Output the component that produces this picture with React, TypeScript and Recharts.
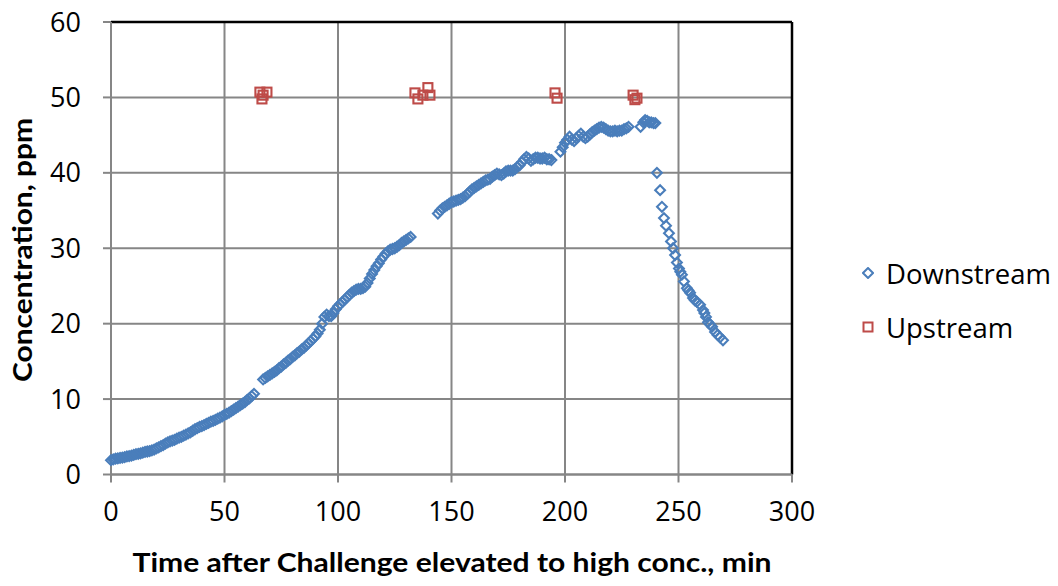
import { CartesianGrid, Label, ReferenceLine, Scatter, ScatterChart, XAxis, YAxis } from "recharts";

// [minutes, ppm] pairs, one array per run of readings
const downstreamRun1: [number, number][] = [
    [0, 1.9], [1, 2.0], [2, 2.1], [3, 2.15], [4, 2.2], [5, 2.25], [6, 2.3], [7, 2.4], [8, 2.45], [9, 2.5],
    [10, 2.6], [11, 2.7], [12, 2.75], [13, 2.8], [14, 2.9], [15, 3.0], [16, 3.05], [17, 3.1], [18, 3.2], [19, 3.3],
    [20, 3.45], [21, 3.6], [22, 3.75], [23, 3.9], [24, 4.1], [25, 4.25], [26, 4.4], [27, 4.5], [28, 4.6], [29, 4.75],
    [30, 4.9], [31, 5.0], [32, 5.15], [33, 5.3], [34, 5.45], [35, 5.6], [36, 5.8], [37, 6.0], [38, 6.15], [39, 6.3],
    [40, 6.4], [41, 6.55], [42, 6.7], [43, 6.85], [44, 7.0], [45, 7.1], [46, 7.25], [47, 7.4], [48, 7.55], [49, 7.7],
    [50, 7.9], [51, 8.05], [52, 8.2], [53, 8.4], [54, 8.6], [55, 8.8], [56, 9.0], [57, 9.2], [58, 9.4], [59, 9.6],
    [60, 9.9], [61, 10.1], [62, 10.4], [63, 10.7],
];

const downstreamRun2: [number, number][] = [
    [67, 12.6], [68, 12.8], [69, 13.0], [70, 13.2], [71, 13.4], [72, 13.6], [73, 13.8], [74, 14.1], [75, 14.3],
    [76, 14.6], [77, 14.8], [78, 15.1], [79, 15.3], [80, 15.6], [81, 15.8], [82, 16.1], [83, 16.3], [84, 16.6],
    [85, 16.8], [86, 17.1], [87, 17.4], [88, 17.7], [89, 18.0], [90, 18.3], [91, 18.7], [92, 19.2], [93, 20.0],
    [94, 20.9], [95, 21.2], [96, 21.0], [97, 21.0], [98, 21.4], [99, 21.9], [100, 22.3], [101, 22.6], [102, 22.9],
    [103, 23.2], [104, 23.5], [105, 23.8], [106, 24.1], [107, 24.3], [108, 24.5], [109, 24.6], [110, 24.6],
    [111, 24.7], [112, 24.9], [113, 25.4], [114, 26.0], [115, 26.6], [116, 27.1], [117, 27.6], [118, 28.0],
    [119, 28.5], [120, 28.9], [121, 29.3], [122, 29.6], [123, 29.8], [124, 29.9], [125, 30.0], [126, 30.2],
    [127, 30.4], [128, 30.7], [129, 30.9], [130, 31.1], [131, 31.3], [132, 31.5],
];

const downstreamRun3: [number, number][] = [
    [144, 34.6], [145, 35.0], [146, 35.3], [147, 35.5], [148, 35.7], [149, 35.9], [150, 36.1], [151, 36.2],
    [152, 36.3], [153, 36.4], [154, 36.5], [155, 36.7], [156, 36.9], [157, 37.2], [158, 37.5], [159, 37.8],
    [160, 38.0], [161, 38.2], [162, 38.4], [163, 38.6], [164, 38.8], [165, 39.0], [166, 39.1], [167, 39.2],
    [168, 39.5], [169, 39.7], [170, 39.9], [171, 39.8], [172, 39.7], [173, 39.9], [174, 40.2], [175, 40.3],
    [176, 40.3], [177, 40.3], [178, 40.5], [179, 40.8], [180, 41.0], [181, 41.4], [182, 41.8], [183, 42.1],
    [184, 41.9], [185, 41.6], [186, 41.8], [187, 42.0], [188, 42.0], [189, 41.9], [190, 41.9], [191, 42.0],
    [192, 41.8], [193, 41.8], [194, 41.7],
];

const downstreamRun4: [number, number][] = [
    [198, 42.8], [199, 43.4], [200, 44.0], [201, 44.4], [202, 44.8], [203, 44.4], [204, 44.2], [205, 44.6],
    [206, 44.9], [207, 45.2], [208, 44.8], [209, 44.6], [210, 44.8], [211, 45.1], [212, 45.4], [213, 45.6],
    [214, 45.8], [215, 46.0], [216, 46.1], [217, 46.0], [218, 45.8], [219, 45.6], [220, 45.5], [221, 45.5],
    [222, 45.6], [223, 45.5], [224, 45.6], [225, 45.6], [226, 45.8], [227, 45.9], [228, 46.1],
];

const downstreamRun5: [number, number][] = [
    [233.3, 46.1], [234.5, 46.7], [235.3, 47.0], [236.2, 46.9], [237.1, 46.7], [238.0, 46.7], [239.0, 46.6],
    [239.8, 46.6],
];

// purge: concentration drops once the challenge stops
const downstreamDecay: [number, number][] = [
    [240.5, 40.0], [241.9, 37.7], [242.7, 35.5], [243.6, 34.0], [244.5, 33.0], [245.8, 32.0], [246.7, 30.9],
    [247.6, 30.0], [248.5, 29.1], [249.3, 28.1], [250.2, 27.3], [250.8, 26.9], [251.5, 26.5], [252.4, 25.6],
    [253.7, 24.7], [254.4, 24.4], [255.1, 24.1], [256.4, 23.4], [257.2, 23.1], [258.1, 22.9], [259.5, 22.5],
    [260.8, 21.8], [261.4, 21.4], [262.1, 20.9], [263.0, 20.2], [263.9, 19.9], [264.8, 19.6], [266.1, 18.9],
    [267.2, 18.5], [268.3, 18.2], [269.6, 17.8],
];

const upstreamReadings: [number, number][] = [
    [65.6, 50.7], [66.5, 49.8], [67.0, 50.3], [68.7, 50.7],
    [133.9, 50.6], [135.2, 49.8], [137.4, 50.3], [139.6, 51.3], [140.5, 50.3],
    [195.6, 50.6], [196.5, 49.9],
    [230.0, 50.3], [230.8, 49.7], [231.7, 49.9],
];

const xTicks = [0, 50, 100, 150, 200, 250, 300];
const yTicks = [0, 10, 20, 30, 40, 50, 60];

const BLUE = "#4A7EBB";
const RED = "#BE4B48";
const GRID = "#868686";
const TICK_FONT = "'Open Sans', sans-serif";
const TITLE_FONT = "Lato, 'Open Sans', sans-serif";

const toPoints = (rows: [number, number][]) => rows.map(([t, c]) => ({ t, c }));

const downstream = toPoints([
    ...downstreamRun1,
    ...downstreamRun2,
    ...downstreamRun3,
    ...downstreamRun4,
    ...downstreamRun5,
    ...downstreamDecay,
]);
const upstream = toPoints(upstreamReadings);

function Diamond({ cx, cy }: { cx?: number; cy?: number }) {
    if (cx == null || cy == null) return null;
    const r = 4.9;
    return (
        <polygon
            points={`${cx},${cy - r} ${cx + r},${cy} ${cx},${cy + r} ${cx - r},${cy}`}
            fill="none"
            stroke={BLUE}
            strokeWidth={2.1}
        />
    );
}

function Square({ cx, cy }: { cx?: number; cy?: number }) {
    if (cx == null || cy == null) return null;
    const h = 4.5;
    return (
        <rect x={cx - h} y={cy - h} width={h * 2} height={h * 2} fill="none" stroke={RED} strokeWidth={2.1} />
    );
}

function LegendBox() {
    const rows = [
        { name: "Downstream", marker: <polygon points="6,1 11,6 6,11 1,6" fill="none" stroke={BLUE} strokeWidth={2} /> },
        { name: "Upstream", marker: <rect x={1.5} y={1.5} width={9} height={9} fill="none" stroke={RED} strokeWidth={2} /> },
    ];
    return (
        <div
            style={{
                position: "absolute",
                left: 862,
                top: 246,
                fontFamily: TICK_FONT,
                fontSize: 27.5,
                color: "#000",
            }}
        >
            {rows.map((row) => (
                <div key={row.name} style={{ display: "flex", alignItems: "center", height: 54 }}>
                    <svg width={12} height={12} style={{ marginRight: 12 }}>
                        {row.marker}
                    </svg>
                    <span>{row.name}</span>
                </div>
            ))}
        </div>
    );
}

export default function App() {
    return (
        <div style={{ position: "absolute", left: 0, top: 0, width: 1058, height: 586, background: "#fff" }}>
            <ScatterChart
                width={1058}
                height={586}
                margin={{ top: 22, right: 266, bottom: 0, left: 0 }}
            >
                <CartesianGrid stroke={GRID} strokeWidth={2} />
                <XAxis
                    type="number"
                    dataKey="t"
                    domain={[0, 300]}
                    ticks={xTicks}
                    interval={0}
                    height={111.5}
                    axisLine={{ stroke: GRID, strokeWidth: 2 }}
                    tickLine={{ stroke: GRID, strokeWidth: 2 }}
                    tickSize={8}
                    tickMargin={19}
                    tick={{ fill: "#000", fontSize: 27, fontFamily: TICK_FONT }}
                >
                    <Label
                        content={() => (
                            <text
                                x={452}
                                y={572}
                                textAnchor="middle"
                                fontFamily={TITLE_FONT}
                                fontWeight={700}
                                fontSize={27}
                                fill="#000"
                                textLength={639}
                                lengthAdjust="spacingAndGlyphs"
                            >
                                Time after Challenge elevated to high conc., min
                            </text>
                        )}
                    />
                </XAxis>
                <YAxis
                    type="number"
                    dataKey="c"
                    domain={[0, 60]}
                    ticks={yTicks}
                    interval={0}
                    width={111}
                    axisLine={{ stroke: GRID, strokeWidth: 2 }}
                    tickLine={{ stroke: GRID, strokeWidth: 2 }}
                    tickSize={8}
                    tickMargin={22}
                    tick={{ fill: "#000", fontSize: 27, fontFamily: TICK_FONT }}
                >
                    <Label
                        content={() => (
                            <text
                                x={32}
                                y={250}
                                transform="rotate(-90 32 250)"
                                textAnchor="middle"
                                fontFamily={TITLE_FONT}
                                fontWeight={700}
                                fontSize={27}
                                fill="#000"
                                textLength={264}
                                lengthAdjust="spacingAndGlyphs"
                            >
                                Concentration, ppm
                            </text>
                        )}
                    />
                </YAxis>
                <ReferenceLine y={60} stroke="#000" strokeWidth={2.5} />
                <ReferenceLine x={300} stroke="#000" strokeWidth={2.5} />
                <Scatter name="Downstream" data={downstream} shape={<Diamond />} isAnimationActive={false} />
                <Scatter name="Upstream" data={upstream} shape={<Square />} isAnimationActive={false} />
            </ScatterChart>
            <LegendBox />
        </div>
    );
}
